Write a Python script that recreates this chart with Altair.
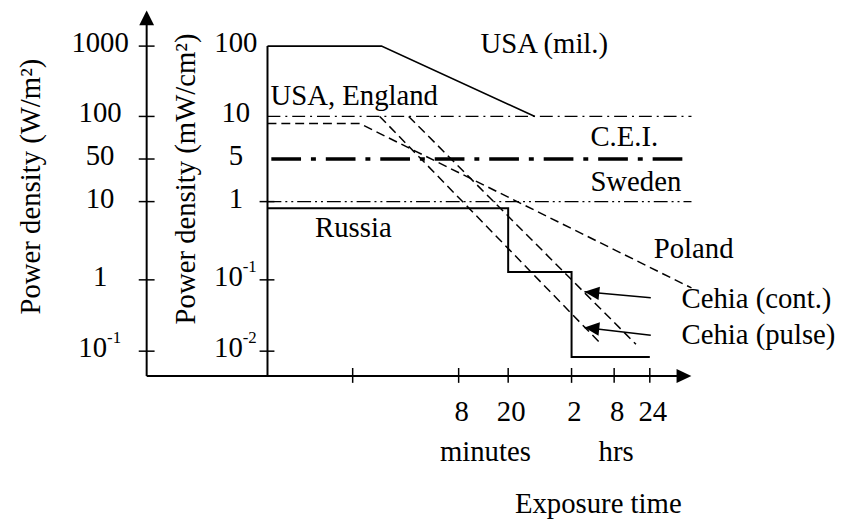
import altair as alt
import pandas as pd

# ---------------- data ----------------
# exposure time in minutes, power density in mW/cm^2
usa_mil_t = [0.2, 1.76, 42.6]
usa_mil_p = [100, 100, 10]
usa_mil_long_t = [0.2, 5200]          # dash-dot level at 10 mW/cm2
usa_mil_long_p = [10, 10]
usa_eng_t = [0.2, 1.15]
usa_eng_p = [8.9, 8.9]
poland_t = [1.15, 5200]
poland_p = [8.9, 0.077]
cei_t = [0.215, 5200]                  # thick dash-dot at 5 mW/cm2
cei_p = [5, 5]
sweden_t = [0.2, 5200]                 # dash-dot-dot at 1 mW/cm2
sweden_p = [1, 1]
cehia_cont_t = [3.0, 940]
cehia_cont_p = [10, 0.0125]
cehia_pulse_t = [1.7, 316]
cehia_pulse_p = [10, 0.0125]
russia_t = [0.2, 20, 20, 120, 120, 1440]
russia_p = [0.82, 0.82, 0.126, 0.126, 0.0083, 0.0083]

# arrows from the Cehia labels: tail -> tip
arrow_tail_t = [1484, 1484]
arrow_tail_p = [0.0562, 0.0167]
arrow_tip_t = [182.5, 182.5]
arrow_tip_p = [0.0681, 0.0215]

# axes
y_tick_vals = [100, 10, 5, 1, 0.1, 0.01]
left_labels = ["1000", "100", "50", "10", "1", "10"]
left_sup = ["", "", "", "", "", "-1"]
right_labels = ["100", "10", "5", "1", "10", "10"]
right_sup = ["", "", "", "", "-1", "-2"]
x_tick_vals = [1, 8, 20, 120, 480, 1440]
x_tick_labels = ["", "8", "20", "2", "8", "24"]

# ---------------- layout helpers ----------------
OX, OY = 8, 8
def px(x):
    return x - OX
def py(y):
    return y - OY

FONT = "Liberation Serif"
FS = 29
SUP = 17

xs = alt.Scale(type="log", nice=False,
               domain=[0.2, 1, 8, 20, 120, 480, 1440],
               range=[px(v) for v in [270, 356, 463, 513, 577, 620, 656]])
ys = alt.Scale(type="log", nice=False,
               domain=[0.01, 0.1, 1, 5, 10, 100],
               range=[py(v) for v in [352, 280, 201, 158, 115, 44]])

X = lambda f: alt.X(f, scale=xs, axis=None)
Y = lambda f: alt.Y(f, scale=ys, axis=None)
dummy = alt.Data(values=[{}])


def line_layer(ts, ps, dash=None, width=1.5):
    df = pd.DataFrame({"t": ts, "p": ps, "i": list(range(len(ts)))})
    kw = dict(color="black", strokeWidth=width)
    if dash:
        kw["strokeDash"] = dash
    return alt.Chart(df).mark_line(**kw).encode(
        x=X("t:Q"), y=Y("p:Q"), order=alt.Order("i:Q"))


def label(text, x, y, align="left", size=FS, angle=0, baseline="alphabetic"):
    return alt.Chart(dummy).mark_text(
        text=text, align=align, baseline=baseline, font=FONT,
        fontSize=size, angle=angle, color="black").encode(
        x=alt.value(px(x)), y=alt.value(py(y)))


def frame_rule(x1, y1, x2, y2, width=2):
    return alt.Chart(dummy).mark_rule(color="black", strokeWidth=width).encode(
        x=alt.value(px(x1)), y=alt.value(py(y1)),
        x2=alt.value(px(x2)), y2=alt.value(py(y2)))


def frame_arrow(shape, x, y):
    return alt.Chart(dummy).mark_point(
        shape=shape, size=900, filled=True, color="black", opacity=1,
        strokeWidth=0).encode(x=alt.value(px(x)), y=alt.value(py(y)))


layers = []

# ---------------- frame ----------------
layers.append(frame_rule(148, 377, 148, 20))
layers.append(frame_arrow("M0,0L-0.5,1L0.5,1Z", 148, 8))
layers.append(frame_rule(148, 377, 688, 377))
layers.append(frame_arrow("M0,0L-1,-0.47L-1,0.47Z", 698, 377))
layers.append(frame_rule(270, 377, 270, 44))

# ticks
yt = pd.DataFrame({"v": y_tick_vals, "l": left_labels, "ls": left_sup,
                   "r": right_labels, "rs": right_sup})
layers.append(alt.Chart(yt).mark_rule(color="black", strokeWidth=1.5).encode(
    y=Y("v:Q"), x=alt.value(px(140)), x2=alt.value(px(156))))
layers.append(alt.Chart(yt).transform_filter("datum.v <= 1").mark_rule(
    color="black", strokeWidth=1.5).encode(
    y=Y("v:Q"), x=alt.value(px(262)), x2=alt.value(px(277))))
xt = pd.DataFrame({"t": x_tick_vals, "l": x_tick_labels})
layers.append(alt.Chart(xt).mark_rule(color="black", strokeWidth=1.5).encode(
    x=X("t:Q"), y=alt.value(py(369)), y2=alt.value(py(384))))

# tick labels
def ylab(field, supfield, cx, edge):
    base = alt.Chart(yt)
    plain = base.transform_filter(f"datum.{supfield} == ''").mark_text(
        align="center", baseline="alphabetic", font=FONT, fontSize=FS, dy=6,
        color="black").encode(y=Y("v:Q"), x=alt.value(px(cx)), text=f"{field}:N")
    b = base.transform_filter(f"datum.{supfield} != ''").mark_text(
        align="right", baseline="alphabetic", font=FONT, fontSize=FS, dy=6,
        color="black").encode(y=Y("v:Q"), x=alt.value(px(edge)), text=f"{field}:N")
    s = base.transform_filter(f"datum.{supfield} != ''").mark_text(
        align="left", baseline="alphabetic", font=FONT, fontSize=SUP, dy=-8,
        color="black").encode(y=Y("v:Q"), x=alt.value(px(edge)), text=f"{supfield}:N")
    return [plain, b, s]

layers += ylab("l", "ls", 101, 108)
layers += ylab("r", "rs", 238, 245)
layers.append(alt.Chart(xt).mark_text(
    align="center", baseline="alphabetic", font=FONT, fontSize=FS, dx=3,
    color="black").encode(x=X("t:Q"), y=alt.value(py(423)), text="l:N"))

# ---------------- series ----------------
layers.append(line_layer(usa_mil_t, usa_mil_p, width=1.6))
layers.append(line_layer(usa_mil_long_t, usa_mil_long_p, dash=[13, 5, 2, 5], width=1.3))
layers.append(line_layer(cei_t, cei_p, dash=[30, 10, 5, 10], width=3.5))
layers.append(line_layer(sweden_t, sweden_p, dash=[14, 4, 2, 4, 2, 4], width=1.3))
layers.append(line_layer(usa_eng_t + poland_t[1:], usa_eng_p + poland_p[1:],
                         dash=[9, 5], width=1.5))
layers.append(line_layer(cehia_cont_t, cehia_cont_p, dash=[9, 5], width=1.5))
layers.append(line_layer(cehia_pulse_t, cehia_pulse_p, dash=[9, 5], width=1.5))
layers.append(line_layer(russia_t, russia_p, width=2))

arr = pd.DataFrame({"t": arrow_tail_t, "p": arrow_tail_p,
                    "t2": arrow_tip_t, "p2": arrow_tip_p})
layers.append(alt.Chart(arr).mark_rule(color="black", strokeWidth=1.6).encode(
    x=X("t:Q"), y=Y("p:Q"), x2="t2:Q", y2="p2:Q"))
layers.append(alt.Chart(arr).mark_point(
    shape="M0,0L1,-0.45L1,0.45Z", size=900, filled=True, color="black",
    opacity=1, strokeWidth=0, angle=6).encode(x=X("t2:Q"), y=Y("p2:Q")))

# ---------------- texts ----------------
layers.append(label("USA (mil.)", 485, 51))
layers.append(label("USA, England", 273, 103))
layers.append(label("C.E.I.", 596, 145))
layers.append(label("Sweden", 596, 190))
layers.append(label("Russia", 318, 237))
layers.append(label("Poland", 660, 258))
layers.append(label("Cehia (cont.)", 688, 308))
layers.append(label("Cehia (pulse)", 688, 345))
layers.append(label("minutes", 490, 463, align="center"))
layers.append(label("hrs", 622, 463, align="center"))
layers.append(label("Exposure time", 604, 515, align="center"))
layers.append(label("Power density (W/m²)", 31, 315, angle=270, baseline="middle"))
layers.append(label("Power density (mW/cm²)", 188, 325, angle=270, baseline="middle"))

chart = alt.layer(*layers).properties(
    width=837, height=513, padding=0,
    autosize=alt.AutoSizeParams(type="none"),
).configure_view(strokeWidth=0)

chart.save("out.html", embed_options={"renderer": "svg", "actions": False})
